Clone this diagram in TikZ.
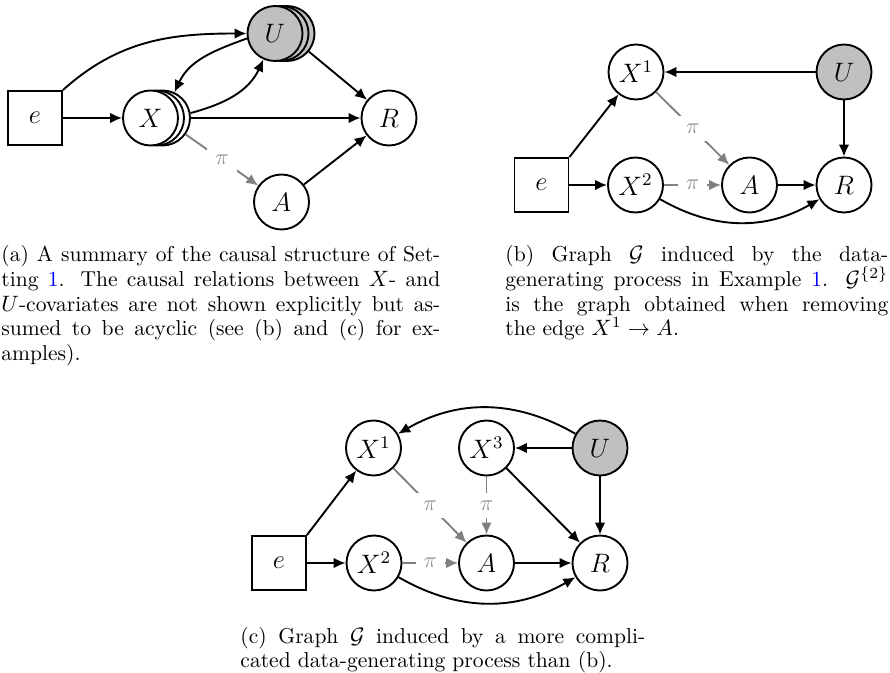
\documentclass[tikz,border=0pt]{standalone}
\usetikzlibrary{arrows.meta}
\definecolor{linkblue}{RGB}{0,0,255}
\definecolor{ugray}{RGB}{192,192,192}
\begin{document}
\begin{tikzpicture}[x=0.45pt,y=0.45pt,
  vnode/.style={circle,draw,line width=0.85pt,minimum size=24.75pt,inner sep=0pt,fill=white,font=\fontsize{11.7}{14}\selectfont},
  unode/.style={vnode,fill=ugray},
  ebox/.style={rectangle,draw,line width=0.85pt,minimum size=24.3pt,inner sep=0pt,font=\fontsize{11.7}{14}\selectfont},
  arr/.style={line width=0.85pt,-{Latex[length=5.4pt,width=4.8pt]}},
  pie/.style={draw=black!50,line width=0.85pt,-{Latex[length=5.4pt,width=4.8pt]}},
  pil/.style={fill=white,text=black!42,inner sep=3.5pt,font=\fontsize{10}{12}\selectfont},
  capt/.style={inner sep=0pt,anchor=base west,font=\fontsize{9.7}{11.5}\selectfont}]
\useasboundingbox (0,0) rectangle (890,672);

% ---------- panel (a)
\node[ebox] (ea) at (35,554) {$e$};
\node[vnode] (Xa2) at (162.5,554) {};
\node[vnode] (Xa1) at (156.5,554) {};
\node[vnode] (Xa) at (150.5,554) {$X$};
\node[unode] (Ua2) at (287,638.5) {};
\node[unode] (Ua1) at (281,638.5) {};
\node[unode] (Ua) at (275,638.5) {$U$};
\node[vnode] (Ra) at (389,554) {$R$};
\node[vnode] (Aa) at (281.5,470) {$A$};

\draw[arr] (ea) -- (Xa);
\draw[arr] (ea.north east) to[out=42,in=180] (Ua.west);
\draw[arr] (Ua.190) to[out=200,in=65] (Xa2.65);
\draw[arr] (Xa2.10) to[out=15,in=-115] (Ua.246);
\draw[arr] (Xa2) -- (Ra);
\draw[arr] (Ua2) -- (Ra);
\draw[arr] (Aa) -- (Ra);
\draw[pie] (Xa2) -- node[pil]{$\pi$} (Aa);

% ---------- panel (b)
\node[ebox] (eb) at (541.5,487) {$e$};
\node[vnode] (X1b) at (636,600) {$X^1$};
\node[unode] (Ub) at (844,600) {$U$};
\node[vnode] (X2b) at (635.5,487) {$X^2$};
\node[vnode] (Ab) at (749.5,487) {$A$};
\node[vnode] (Rb) at (844,487) {$R$};

\draw[arr] (eb) -- (X2b);
\draw[arr] (eb.north east) -- (X1b);
\draw[arr] (Ub) -- (X1b);
\draw[arr] (Ub) -- (Rb);
\draw[arr] (Ab) -- (Rb);
\draw[arr] (X2b) to[bend right=30] (Rb);
\draw[pie] (X1b) -- node[pil]{$\pi$} (Ab);
\draw[pie] (X2b) -- node[pil]{$\pi$} (Ab);

% ---------- panel (c)
\node[ebox] (ec) at (279,109) {$e$};
\node[vnode] (X1c) at (373.5,224) {$X^1$};
\node[vnode] (X3c) at (486.5,224) {$X^3$};
\node[unode] (Uc) at (600,224) {$U$};
\node[vnode] (X2c) at (374,109) {$X^2$};
\node[vnode] (Ac) at (486.5,109) {$A$};
\node[vnode] (Rc) at (600,109) {$R$};

\draw[arr] (ec) -- (X2c);
\draw[arr] (ec.north east) -- (X1c);
\draw[arr] (Uc) to[bend right=30] (X1c);
\draw[arr] (Uc) -- (X3c);
\draw[arr] (Uc) -- (Rc);
\draw[arr] (X3c) -- (Rc);
\draw[arr] (Ac) -- (Rc);
\draw[arr] (X2c) to[bend right=30] (Rc);
\draw[pie] (X1c) -- node[pil]{$\pi$} (Ac);
\draw[pie] (X3c) -- node[pil]{$\pi$} (Ac);
\draw[pie] (X2c) -- node[pil]{$\pi$} (Ac);

% ---------- captions
\node[capt] (ca1) at (1,410) {\makebox[197.5pt][s]{(a) A summary of the causal structure of Set-}};
\node[capt] (ca2) at (1,385.5) {\makebox[197.5pt][s]{ting \textcolor{linkblue}{1}. The causal relations between $X$- and}};
\node[capt] (ca3) at (1,361) {\makebox[197.5pt][s]{$U$-covariates are not shown explicitly but as-}};
\node[capt] (ca4) at (1,336.5) {\makebox[197.5pt][s]{sumed to be acyclic (see (b) and (c) for ex-}};
\node[capt] (ca5) at (1,312) {amples).};

\node[capt] (cb1) at (505,410) {\makebox[172.3pt][s]{(b) Graph $\mathcal{G}$ induced by the data-}};
\node[capt] (cb2) at (505,385.5) {\makebox[172.3pt][s]{generating process in Example \textcolor{linkblue}{1}. $\mathcal{G}^{\{2\}}$}};
\node[capt] (cb3) at (505,361) {\makebox[172.3pt][s]{is the graph obtained when removing}};
\node[capt] (cb4) at (505,336.5) {the edge $X^1 \to A$.};

\node[capt] (cc1) at (240,29) {\makebox[182.2pt][s]{(c) Graph $\mathcal{G}$ induced by a more compli-}};
\node[capt] (cc2) at (240,5) {cated data-generating process than (b).};
\end{tikzpicture}
\end{document}
